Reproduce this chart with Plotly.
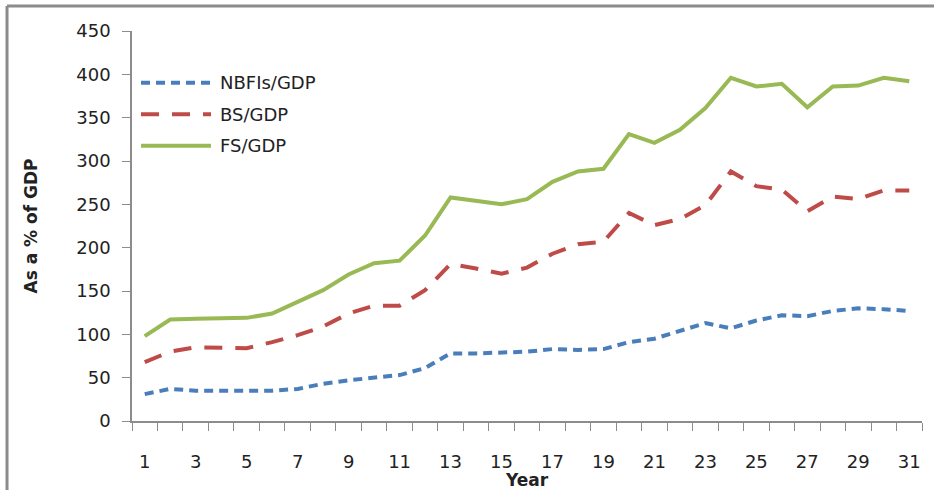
import plotly.graph_objects as go

years = list(range(1, 32))
x_tick_labels = [str(y) for y in range(1, 32, 2)]

nbfis_gdp = [31, 37, 35, 35, 36, 35, 37, 43, 47, 50, 53, 61, 78, 78, 79,
             80, 83, 82, 83, 91, 95, 104, 113, 107, 116, 122, 121, 127, 130, 129, 127]
bs_gdp = [68, 80, 85, 85, 84, 91, 99, 109, 124, 133, 133, 151, 181, 176, 170,
          177, 193, 204, 207, 240, 226, 233, 249, 288, 271, 267, 242, 259, 256, 266, 266]
fs_gdp = [98, 117, 118, 119, 119, 124, 137, 151, 169, 182, 185, 214, 258, 254, 250,
          256, 276, 288, 291, 331, 321, 336, 361, 396, 386, 389, 362, 386, 387, 396, 392]

series_names = ["NBFIs/GDP", "BS/GDP", "FS/GDP"]
series_values = [nbfis_gdp, bs_gdp, fs_gdp]
colors = ["#4A7EBB", "#BE4B48", "#98B954"]
dashes = ["9px,6px", "18px,13px", "solid"]

FONT = "DejaVu Sans"
TEXT = "#222222"
AXIS = "#8C8C8C"

fig = go.Figure()
for name, vals, col, dash in zip(series_names, series_values, colors, dashes):
    fig.add_trace(go.Scatter(
        x=years, y=vals, name=name, mode="lines",
        line=dict(color=col, width=4, dash=dash),
        showlegend=False,
    ))

# Legend drawn as line samples + labels inside the plot area
legend_y = [0.8674, 0.7864, 0.7059]
for name, col, dash, ly in zip(series_names, colors, dashes, legend_y):
    fig.add_shape(type="line", xref="paper", yref="paper",
                  x0=0.0114, x1=0.1, y0=ly, y1=ly,
                  line=dict(color=col, width=4, dash=dash))
    fig.add_annotation(xref="paper", yref="paper", x=0.1089, y=ly,
                       text=name, showarrow=False, xanchor="left", yanchor="middle",
                       font=dict(family=FONT, size=18, color=TEXT))

# Outer frame (top and left edges)
fig.add_shape(type="line", xref="paper", yref="paper",
              x0=-0.1582, x1=1.2, y0=1.0641, y1=1.0641,
              line=dict(color=AXIS, width=3))
fig.add_shape(type="line", xref="paper", yref="paper",
              x0=-0.1582, x1=-0.1582, y0=-0.3, y1=1.0641,
              line=dict(color=AXIS, width=3))

fig.update_layout(
    width=934, height=490,
    margin=dict(l=132, r=12, t=31, b=69),
    paper_bgcolor="white", plot_bgcolor="white",
    font=dict(family=FONT, size=18, color=TEXT),
)

fig.update_xaxes(
    range=[0.5, 31.5], automargin=False,
    tickvals=list(range(1, 32, 2)), ticktext=x_tick_labels,
    ticks="", ticklabelstandoff=24,
    minor=dict(ticks="outside", tick0=0.5, dtick=1, ticklen=8, tickcolor=AXIS, showgrid=False),
    showline=True, linecolor=AXIS, linewidth=1.5,
    showgrid=False, zeroline=False,
    title=dict(text="<b>Year</b>", font=dict(family=FONT, size=17, color=TEXT), standoff=4),
    tickfont=dict(family=FONT, size=18, color=TEXT),
)

fig.update_yaxes(
    range=[0, 450], tickvals=list(range(0, 451, 50)), automargin=False,
    ticks="outside", ticklen=8, tickcolor=AXIS, ticklabelstandoff=8,
    showline=True, linecolor=AXIS, linewidth=1.5,
    showgrid=False, zeroline=False,
    title=dict(text="<b>As a % of GDP</b>", font=dict(family=FONT, size=17, color=TEXT), standoff=34),
    tickfont=dict(family=FONT, size=18, color=TEXT),
)

fig.write_html("out.html")
